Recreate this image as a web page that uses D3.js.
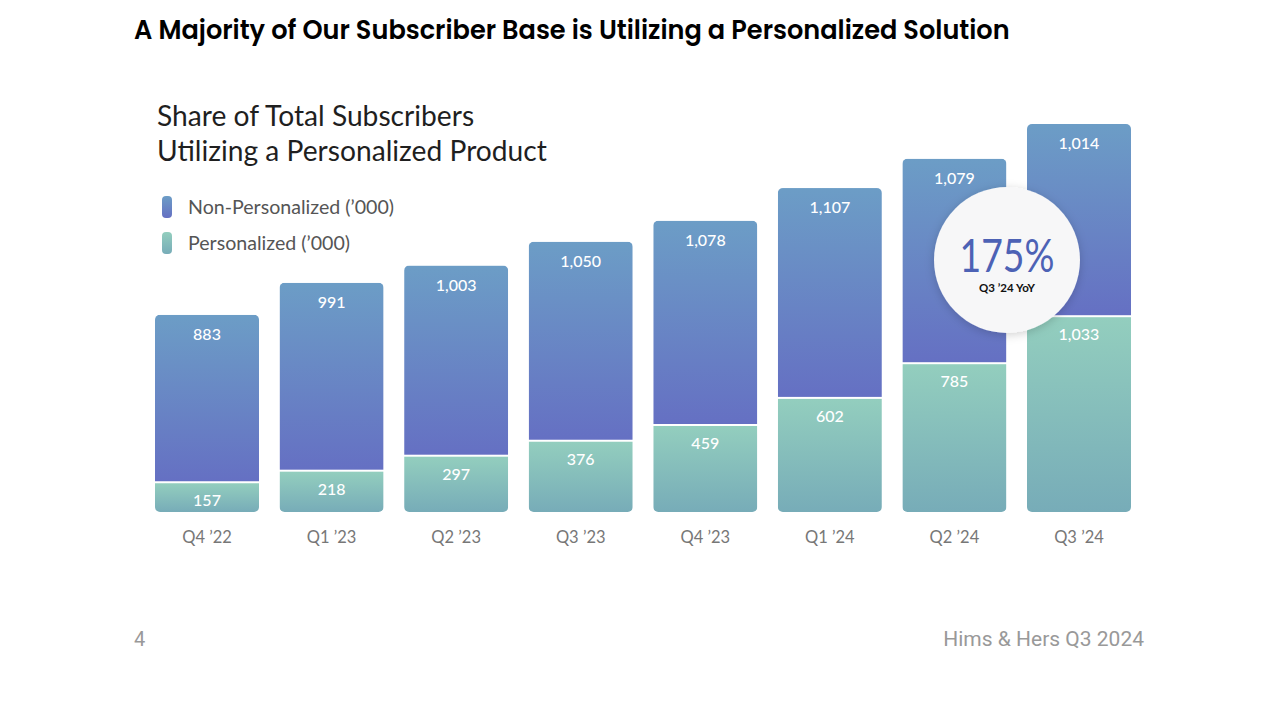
<!DOCTYPE html>
<html><head><meta charset="utf-8">
<script src="https://cdn.jsdelivr.net/npm/d3@7"></script>
<style>
html,body{margin:0;padding:0;background:#fff;}
svg{display:block;}
</style></head>
<body>
<svg id="chart" width="1280" height="713"></svg>
<script>
const categories = ["Q4 \u201922","Q1 \u201923","Q2 \u201923","Q3 \u201923","Q4 \u201923","Q1 \u201924","Q2 \u201924","Q3 \u201924"];
const personalized = [157,218,297,376,459,602,785,1033];
const nonPersonalized = [883,991,1003,1050,1078,1107,1079,1014];
const legendLabels = ["Non-Personalized (\u2019000)","Personalized (\u2019000)"];
const badgeValue = "175%";
const badgeLabel = "Q3 \u201924 YoY";

const svg = d3.select("#chart");
const defs = svg.append("defs");

function grad(id, c1, c2){
  const g = defs.append("linearGradient").attr("id", id).attr("x1",0).attr("y1",0).attr("x2",0).attr("y2",1);
  g.append("stop").attr("offset","0%").attr("stop-color",c1);
  g.append("stop").attr("offset","100%").attr("stop-color",c2);
}
grad("gBlue","#6C9DC6","#6570C3");
grad("gGreen","#93CEBE","#77ACB8");
const sh = defs.append("filter").attr("id","shadow").attr("x","-30%").attr("y","-30%").attr("width","160%").attr("height","160%");
sh.append("feDropShadow").attr("dx",0).attr("dy",2).attr("stdDeviation",5).attr("flood-color","#000").attr("flood-opacity",0.18);

// Title
svg.append("text").attr("x",134).attr("y",39)
  .attr("font-family","Poppins, 'Noto Sans', sans-serif").attr("font-weight",600)
  .attr("font-size",25.6).attr("fill","#000")
  .text("A Majority of Our Subscriber Base is Utilizing a Personalized Solution");

// Chart heading
const head = svg.append("text").attr("font-family","Lato, 'Noto Sans', sans-serif").attr("font-size",28.2).attr("fill","#1f1f1f");
head.append("tspan").attr("x",157).attr("y",126).text("Share of Total Subscribers");
head.append("tspan").attr("x",157).attr("y",161).text("Utilizing a Personalized Product");

// Legend
const legColors = ["url(#gBlue)","url(#gGreen)"];
legendLabels.forEach((l,i)=>{
  const y = 207 + i*36;
  svg.append("rect").attr("x",162).attr("y",y-11).attr("width",10).attr("height",22).attr("rx",4)
    .attr("fill",legColors[i]);
  svg.append("text").attr("x",188).attr("y",y+6.5).attr("font-family","Lato, 'Noto Sans', sans-serif")
    .attr("font-size",19.6).attr("fill","#555").text(l);
});

const x = d3.scaleBand().domain(categories).range([155, 1131]).paddingInner(0.165).paddingOuter(0);
const y = d3.scaleLinear().domain([0, 2047]).range([512, 124]);

const data = categories.map((c,i)=>({c, p: personalized[i], n: nonPersonalized[i]}));

const bars = svg.append("g").selectAll("g").data(data).join("g");
bars.each(function(d,i){
  const g = d3.select(this);
  const x0 = x(d.c), w = x.bandwidth();
  const top = y(d.p + d.n), bot = y(0), mid = y(d.p);
  defs.append("clipPath").attr("id","clip"+i).append("rect")
    .attr("x",x0).attr("y",top).attr("width",w).attr("height",bot-top).attr("rx",5);
  const cg = g.append("g").attr("clip-path",`url(#clip${i})`);
  cg.append("rect").attr("x",x0).attr("y",top).attr("width",w).attr("height",mid-top-1).attr("fill","url(#gBlue)");
  cg.append("rect").attr("x",x0).attr("y",mid+1).attr("width",w).attr("height",bot-mid-1).attr("fill","url(#gGreen)");
  g.append("text").attr("x",x0+w/2).attr("y",top+25).attr("text-anchor","middle")
    .attr("font-family","Lato, 'Noto Sans', sans-serif").attr("font-size",16).attr("font-weight",500).attr("fill","#fff")
    .text(d3.format(",")(d.n));
  g.append("text").attr("x",x0+w/2).attr("y",mid+24).attr("text-anchor","middle")
    .attr("font-family","Lato, 'Noto Sans', sans-serif").attr("font-size",16).attr("font-weight",500).attr("fill","#fff")
    .text(d3.format(",")(d.p));
});

// x axis
const xa = svg.append("g").attr("transform","translate(0,512)").call(d3.axisBottom(x).tickSize(0).tickPadding(19));
xa.select(".domain").remove();
xa.selectAll("text").attr("font-family","Lato, 'Noto Sans', sans-serif").attr("font-size",16.5).attr("fill","#777");

// Badge
const bx = 1007, by = 260;
svg.append("circle").attr("cx",bx).attr("cy",by).attr("r",73).attr("fill","#f7f7f8").attr("filter","url(#shadow)");
svg.append("text").attr("x",bx).attr("y",by+12).attr("text-anchor","middle")
  .attr("font-family","Lato, 'Noto Sans', sans-serif").attr("font-size",46).attr("fill","#4D62B5")
  .attr("textLength",95).attr("lengthAdjust","spacingAndGlyphs").text(badgeValue);
svg.append("text").attr("x",bx).attr("y",by+32).attr("text-anchor","middle")
  .attr("font-family","Lato, 'Noto Sans', sans-serif").attr("font-size",11.5).attr("font-weight",700).attr("fill","#111")
  .text(badgeLabel);

// Footer
svg.append("text").attr("x",134).attr("y",646).attr("font-family","Roboto, 'Noto Sans', sans-serif")
  .attr("font-size",20).attr("fill","#999").text("4");
svg.append("text").attr("x",1144).attr("y",646).attr("text-anchor","end").attr("font-family","Roboto, 'Noto Sans', sans-serif")
  .attr("font-size",21).attr("fill","#999").text("Hims & Hers Q3 2024");
</script>
</body></html>
